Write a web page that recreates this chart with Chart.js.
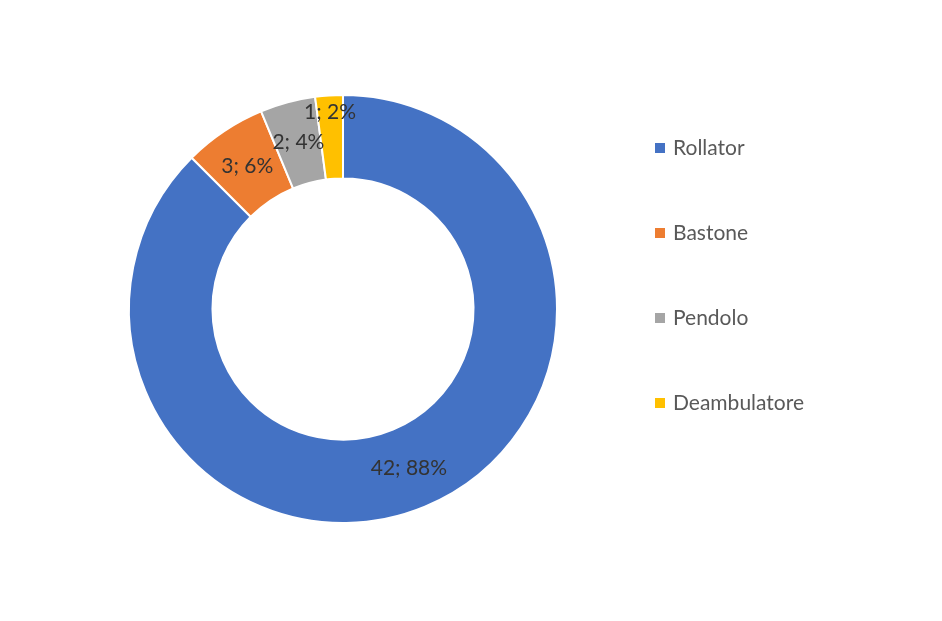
<!DOCTYPE html>
<html lang="it">
<head>
<meta charset="utf-8">
<title>Ausili per la deambulazione</title>
<script src="https://cdn.jsdelivr.net/npm/chart.js@4/dist/chart.umd.min.js"></script>
<style>
  html, body { margin: 0; padding: 0; background: #ffffff; }
  #wrap { width: 942px; height: 621px; position: relative; }
</style>
</head>
<body>
<div id="wrap"><canvas id="ausili" width="942" height="621"></canvas></div>
<script>
/* Dati: ausili usati dai pazienti */
const categorie = ['Rollator', 'Bastone', 'Pendolo', 'Deambulatore'];
const pazienti  = [42, 3, 2, 1];
const colori    = ['#4472C4', '#ED7D31', '#A5A5A5', '#FFC000'];

const FONT = 'Lato, "Open Sans", sans-serif';

/* Etichette "valore; percentuale" al centro di ogni spicchio */
const etichettePlugin = {
  id: 'etichette',
  afterDatasetsDraw(chart, args, opts) {
    const ctx  = chart.ctx;
    const meta = chart.getDatasetMeta(0);
    const data = chart.data.datasets[0].data;
    const tot  = data.reduce((a, b) => a + b, 0);
    ctx.save();
    ctx.font = opts.font;
    ctx.fillStyle = opts.color;
    ctx.textAlign = 'center';
    ctx.textBaseline = 'middle';
    meta.data.forEach((arc, i) => {
      const p = arc.getProps(['x', 'y', 'startAngle', 'endAngle', 'innerRadius', 'outerRadius'], true);
      const ang = (p.startAngle + p.endAngle) / 2;
      const r = (p.innerRadius + p.outerRadius) / 2 + (opts.spostamento[i] || 0);
      const pct = Math.round(data[i] / tot * 100);
      ctx.fillText(`${data[i]}; ${pct}%`, p.x + Math.cos(ang) * r, p.y + Math.sin(ang) * r);
    });
    ctx.restore();
  }
};

/* Legenda verticale a destra, disegnata a mano */
const legendaPlugin = {
  id: 'legenda',
  afterDraw(chart, args, opts) {
    const ctx = chart.ctx;
    ctx.save();
    ctx.font = opts.font;
    ctx.textBaseline = 'middle';
    chart.data.labels.forEach((lab, i) => {
      const y = opts.y + i * opts.passo;
      ctx.fillStyle = colori[i];
      ctx.fillRect(opts.x, y - 5, 10, 10);
      ctx.fillStyle = opts.color;
      ctx.fillText(lab, opts.x + 18, y);
    });
    ctx.restore();
  }
};

new Chart(document.getElementById('ausili'), {
  type: 'doughnut',
  data: {
    labels: categorie,
    datasets: [{
      data: pazienti,
      backgroundColor: colori,
      borderColor: '#ffffff',
      borderWidth: 2,
      hoverOffset: 0
    }]
  },
  options: {
    responsive: false,
    animation: false,
    cutout: '61%',
    layout: { padding: { left: 128, right: 384, top: 94, bottom: 97 } },
    plugins: {
      legend: { display: false },
      tooltip: { enabled: false },
      etichette: { font: '21px ' + FONT, color: '#333333', spostamento: [0, 0, 0, 25] },
      legenda: { font: '21px ' + FONT, color: '#595959', x: 655, y: 148, passo: 85 }
    }
  },
  plugins: [etichettePlugin, legendaPlugin]
});
</script>
</body>
</html>
